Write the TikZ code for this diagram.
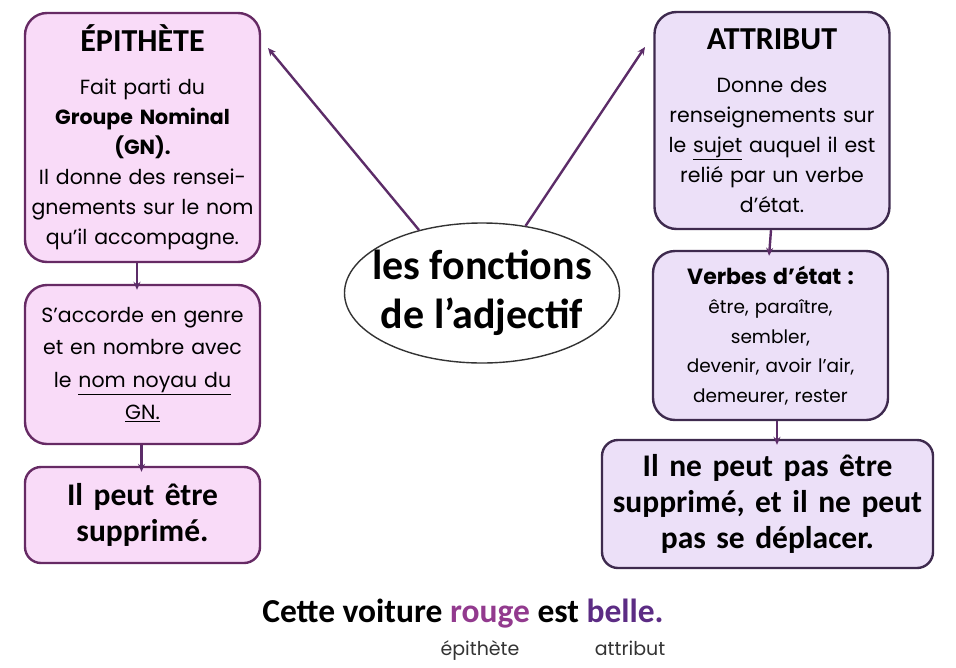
\documentclass[tikz,border=0pt]{standalone}
\usepackage{fontspec}
\setmainfont{Poppins}
\newfontfamily\calib{Carlito}
\usetikzlibrary{shapes.geometric,arrows.meta}

\definecolor{epifill}{RGB}{249,219,248}
\definecolor{epiline}{RGB}{102,42,100}
\definecolor{attfill}{RGB}{236,224,248}
\definecolor{attline}{RGB}{62,42,78}
\definecolor{arrline}{RGB}{92,44,104}
\definecolor{rougecol}{RGB}{146,58,142}
\definecolor{bellecol}{RGB}{92,44,132}

\tikzset{
  box/.style={draw, line width=2.4pt, rounded corners=22pt, align=center, inner sep=0pt},
  epibox/.style={box, draw=epiline, fill=epifill},
  attbox/.style={box, draw=attline, fill=attfill},
  fleche/.style={draw=arrline, line width=2.4pt, -{Stealth[length=8pt,width=7pt]}},
  titre/.style={font=\calib\bfseries\fontsize{31.5}{36}\selectfont},
  legende/.style={font=\fontsize{19}{20}\selectfont, text=black!80, anchor=base}
}

\begin{document}
\begin{tikzpicture}[x=1pt,y=-1pt]
\useasboundingbox (0,0) rectangle (956,667);

      \begin{scope}[every node/.style={epibox, minimum width=235pt, text width=228pt, font=\fontsize{20.5}{30}\selectfont}]
        \node[minimum height=249pt] (epi) at (142.5,137.5)
          {{\calib\bfseries\fontsize{32}{36}\selectfont ÉPITHÈTE}\\[13pt]
           Fait parti du\\ \textbf{Groupe Nominal}\\ \textbf{(GN).}\\
           Il donne des rensei-\\ gnements sur le nom\\ qu’il accompagne.};
        \node[minimum height=159pt, font=\fontsize{20.5}{32.5}\selectfont] (accord) at (142.5,364.5)
          {S’accorde en genre\\ et en nombre avec\\ le \underline{nom noyau du}\\ \underline{GN.}};
        \node[minimum height=96pt, rounded corners=16pt, titre] (supp) at (142.5,515)
          {Il peut être\\ supprimé.};
      \end{scope}

      \begin{scope}[every node/.style={attbox, minimum width=235pt, text width=228pt, font=\fontsize{20.5}{30}\selectfont}]
        \node[minimum height=217pt] (att) at (772,120.5)
          {{\calib\bfseries\fontsize{32}{36}\selectfont ATTRIBUT}\\[13pt]
           Donne des\\ renseignements sur\\ le \underline{sujet} auquel il est\\
           relié par un verbe\\ d’état.};
        \node[minimum height=169pt, font=\fontsize{18.5}{29.5}\selectfont] (verbes) at (770.5,335.5)
          {{\fontsize{22}{29.5}\selectfont\bfseries Verbes d’état :}\\ être, paraître,\\ sembler,\\
           devenir, avoir l’air,\\ demeurer, rester};
        \node[minimum width=331pt, text width=325pt, minimum height=128pt, rounded corners=16pt, titre] (last) at (767.5,504)
          {Il ne peut pas être\\ supprimé, et il ne peut\\ pas se déplacer.};
      \end{scope}

      \node[ellipse, draw=black!80, line width=1.4pt, fill=white, minimum width=275pt, minimum height=140pt,
            inner xsep=-22pt, inner ysep=0pt, align=center,
            font=\calib\bfseries\fontsize{42}{49}\selectfont] (fonc) at (482,293)
        {les fonctions\\ de l’adjectif};

      \coordinate (epitip) at (268,48);
      \coordinate (atttip) at (645,47);

      \begin{scope}[every edge/.style={fleche}]
        \path (fonc.135) edge (epitip);
        \path (fonc.57)  edge (atttip);
        \path ([xshift=-5.5pt]epi.south)  edge[shorten >=-6pt] ([xshift=-5.5pt]accord.north);
        \path ([xshift=-1pt]accord.south) edge[shorten >=-6pt] ([xshift=-1pt]supp.north);
        \path ([xshift=-1pt]att.south)    edge[shorten >=-6pt] ([xshift=-1pt]verbes.north);
        \path ([xshift=6.5pt]verbes.south) edge[shorten >=-6pt] ([xshift=6.5pt]verbes.south |- last.north);
      \end{scope}

      \node[font=\calib\bfseries\fontsize{33.5}{38}\selectfont] (phrase) at (463,614)
        {Cette voiture \textcolor{rougecol}{rouge} est \textcolor{bellecol}{belle.}};
      \node[legende] (lepi) at (480,655) {épithète};
      \node[legende] (latt) at (630,655) {attribut};

    \end{tikzpicture}
\end{document}
